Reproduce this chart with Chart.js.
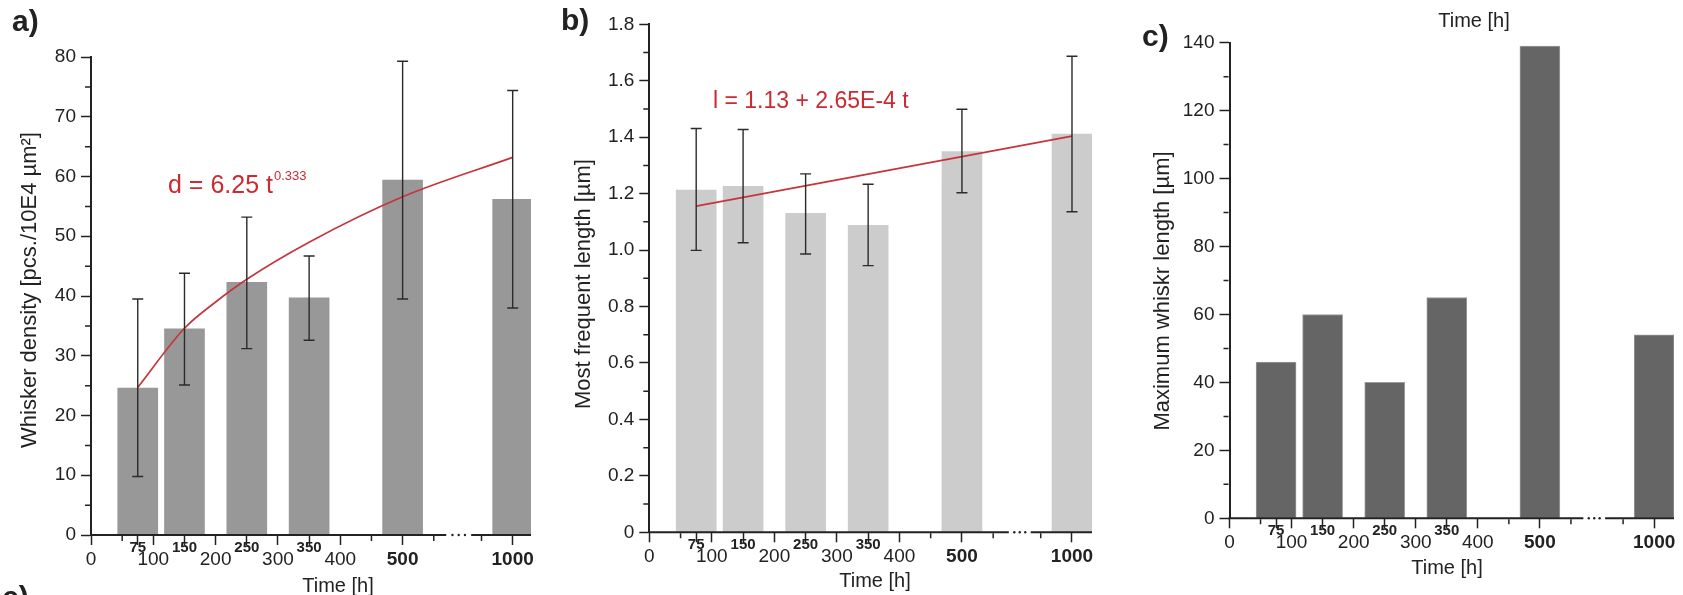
<!DOCTYPE html>
<html>
<head>
<meta charset="utf-8">
<script src="https://cdn.jsdelivr.net/npm/chart.js@4.4.1/dist/chart.umd.min.js"></script>
<style>
html, body { margin: 0; padding: 0; background: #fff; width: 1683px; height: 595px; overflow: hidden; }
canvas { position: absolute; top: 0; }
</style>
</head>
<body>
<canvas id="ca" width="560" height="595" style="left:0px"></canvas>
<canvas id="cb" width="560" height="595" style="left:560px"></canvas>
<canvas id="cc" width="563" height="595" style="left:1120px"></canvas>
<script>
// ---------------- data ----------------
const times = [75, 150, 250, 350, 500, 1000];
const tickHours = [0, 75, 100, 150, 200, 250, 300, 350, 400, 500, 1000];
const smallTickHours = [75, 150, 250, 350];
const boldTickHours = [500, 1000];
const minorTickHours = [50, 450, 550, 950];

// a) whisker density
const densityMean = [24.6, 34.5, 42.3, 39.7, 59.4, 56.2];
const densityHigh = [39.5, 43.8, 53.2, 46.7, 79.3, 74.4];
const densityLow  = [9.8, 25.1, 31.2, 32.6, 39.5, 38.0];
const densityFitTimes  = [75, 150, 200, 250, 350, 500, 1000];
const densityFitValues = [24.7, 34.6, 39.0, 42.8, 49.0, 56.6, 63.2];

// b) most frequent length
const lengthMean = [1.213, 1.226, 1.130, 1.088, 1.349, 1.411];
const lengthHigh = [1.431, 1.427, 1.270, 1.233, 1.499, 1.687];
const lengthLow  = [0.999, 1.026, 0.986, 0.945, 1.203, 1.136];
const lengthFitTimes  = [75, 1000];
const lengthFitValues = [1.156, 1.404];

// c) maximum whisker length
const maxLength = [46, 60, 40, 65, 139, 54];

// ---------------- drawing ----------------
const FONT = "'Liberation Sans', Arial, Helvetica, sans-serif";
Chart.defaults.font.family = FONT;
Chart.defaults.color = '#222';
const RED = '#cc2a30';
const INK = '#222';

function drawText(ctx, it) {
  ctx.save();
  ctx.font = (it.bold ? 'bold ' : '') + it.size + 'px ' + FONT;
  ctx.fillStyle = it.color || INK;
  ctx.textAlign = it.align || 'left';
  ctx.textBaseline = it.baseline || 'alphabetic';
  ctx.translate(it.x, it.y);
  if (it.rot) ctx.rotate(it.rot * Math.PI / 180);
  ctx.fillText(it.t, 0, 0);
  if (it.sup) {
    const w = ctx.measureText(it.t).width;
    ctx.font = it.supSize + 'px ' + FONT;
    ctx.textAlign = 'left';
    ctx.fillText(it.sup, w + 1, -it.supRise);
  }
  ctx.restore();
}

function makePanel(id, cfg) {
  const pos = t => (t > 600 ? t - cfg.shift : t);

  const extras = {
    id: 'extras_' + id,
    afterDatasetsDraw(chart) {
      const { ctx, scales: { x, y } } = chart;
      ctx.save();
      // error bars
      if (cfg.errHigh) {
        ctx.strokeStyle = '#2b2b2b';
        ctx.lineWidth = 1.4;
        times.forEach((t, i) => {
          const px = x.getPixelForValue(pos(t));
          const yh = y.getPixelForValue(cfg.errHigh[i]);
          const yl = y.getPixelForValue(cfg.errLow[i]);
          ctx.beginPath();
          ctx.moveTo(px, yh); ctx.lineTo(px, yl);
          ctx.moveTo(px - 5.5, yh); ctx.lineTo(px + 5.5, yh);
          ctx.moveTo(px - 5.5, yl); ctx.lineTo(px + 5.5, yl);
          ctx.stroke();
        });
      }
      // broken x axis line
      const y0 = y.getPixelForValue(0);
      ctx.strokeStyle = INK;
      ctx.lineWidth = 2;
      ctx.beginPath();
      ctx.moveTo(x.getPixelForValue(0) - 1, y0);
      ctx.lineTo(x.getPixelForValue(cfg.gap[0]), y0);
      ctx.moveTo(x.getPixelForValue(cfg.gap[1]), y0);
      ctx.lineTo(x.getPixelForValue(cfg.xmax), y0);
      ctx.stroke();
      ctx.fillStyle = INK;
      const g0 = x.getPixelForValue(cfg.gap[0]), g1 = x.getPixelForValue(cfg.gap[1]);
      for (let k = 1; k <= 3; k++) {
        const dx = g0 + (g1 - g0) * k / 4;
        ctx.beginPath(); ctx.arc(dx, y0, 1.2, 0, Math.PI * 2); ctx.fill();
      }
      // minor ticks
      ctx.lineWidth = 1.5;
      ctx.beginPath();
      minorTickHours.forEach(h => {
        const px = x.getPixelForValue(pos(h));
        ctx.moveTo(px, y0 + 1); ctx.lineTo(px, y0 + 6);
      });
      const x0 = x.getPixelForValue(0);
      for (let k = 0; k < Math.round(cfg.ymax / cfg.ystep); k++) {
        const py = y.getPixelForValue((k + 0.5) * cfg.ystep);
        ctx.moveTo(x0 - 6, py); ctx.lineTo(x0 - 1, py);
      }
      ctx.stroke();
      ctx.restore();
    },
    afterDraw(chart) {
      cfg.texts.forEach(it => drawText(chart.ctx, it));
    }
  };

  const datasets = [];
  if (cfg.fitTimes) {
    datasets.push({
      type: 'line',
      data: cfg.fitTimes.map((t, i) => ({ x: pos(t), y: cfg.fitValues[i] })),
      borderColor: '#c8343c', borderWidth: 1.7, pointRadius: 0,
      cubicInterpolationMode: 'monotone', fill: false
    });
  }
  datasets.push({
    type: 'bar',
    data: times.map((t, i) => ({ x: pos(t), y: cfg.values[i] })),
    backgroundColor: cfg.color,
    borderColor: cfg.edge || cfg.color,
    borderWidth: cfg.edge ? 1 : 0,
    barThickness: 40
  });

  return new Chart(document.getElementById(id), {
    type: 'bar',
    data: { datasets },
    options: {
      responsive: false, animation: false, devicePixelRatio: 1,
      layout: { autoPadding: false, padding: { left: 0, top: cfg.top, right: cfg.right, bottom: 0 } },
      plugins: { legend: { display: false }, tooltip: { enabled: false } },
      scales: {
        x: {
          type: 'linear', min: 0, max: cfg.xmax, offset: false,
          afterFit: s => { s.height = cfg.xh; },
          afterBuildTicks: s => { s.ticks = tickHours.map(h => ({ value: pos(h) })); },
          border: { display: false },
          grid: { display: true, drawOnChartArea: false, drawTicks: true, tickLength: 10, tickWidth: 1.5, tickColor: INK, offset: false },
          ticks: {
            autoSkip: false, maxRotation: 0, minRotation: 0, padding: 3, color: INK,
            callback: (v, i) => String(tickHours[i]),
            font: c => {
              const h = tickHours[c.index];
              if (smallTickHours.includes(h)) return { family: FONT, size: 15, weight: 'bold', lineHeight: 0 };
              if (boldTickHours.includes(h)) return { family: FONT, size: 19, weight: 'bold', lineHeight: 1.2 };
              return { family: FONT, size: 19, lineHeight: 1.2 };
            }
          }
        },
        y: {
          type: 'linear', min: 0, max: cfg.ymax,
          afterFit: s => { s.width = cfg.left; },
          border: { display: true, width: 2, color: INK },
          grid: { drawOnChartArea: false, drawTicks: true, tickLength: 10, tickWidth: 1.5, tickColor: INK },
          ticks: { stepSize: cfg.ystep, padding: 5, color: INK, font: { family: FONT, size: 19 }, callback: cfg.yfmt }
        }
      }
    },
    plugins: [extras]
  });
}

makePanel('ca', {
  shift: 323.4, xmax: 706, gap: [570, 610], left: 91, top: 57, right: 29, xh: 60,
  ymax: 80, ystep: 10, yfmt: v => String(v),
  values: densityMean, errHigh: densityHigh, errLow: densityLow,
  fitTimes: densityFitTimes, fitValues: densityFitValues, color: '#989898',
  texts: [
    { t: 'a)', x: 12, y: 31, size: 30, bold: true },
    { t: 'd = 6.25 t', x: 168, y: 193, size: 25, color: RED, sup: '0.333', supSize: 13, supRise: 13 },
    { t: 'Whisker density [pcs./10E4 \u00b5m\u00b2]', x: 30, y: 290, size: 22, rot: -90, align: 'center', baseline: 'middle' },
    { t: 'Time [h]', x: 338, y: 592, size: 20, align: 'center' },
    { t: 'c)', x: 2, y: 607, size: 30, bold: true }
  ]
});

makePanel('cb', {
  shift: 324, xmax: 708, gap: [575, 610], left: 89.3, top: 24.3, right: 28, xh: 62.7,
  ymax: 1.8, ystep: 0.2, yfmt: v => (Math.abs(v) < 1e-9 ? '0' : v.toFixed(1)),
  values: lengthMean, errHigh: lengthHigh, errLow: lengthLow,
  fitTimes: lengthFitTimes, fitValues: lengthFitValues, color: '#cccccc',
  texts: [
    { t: 'b)', x: 1, y: 30, size: 30, bold: true },
    { t: 'l = 1.13 + 2.65E-4 t', x: 153, y: 108, size: 23, color: RED },
    { t: 'Most frequent length [\u00b5m]', x: 24, y: 284, size: 22, rot: -90, align: 'center', baseline: 'middle' },
    { t: 'Time [h]', x: 315, y: 587, size: 20, align: 'center' }
  ]
});

makePanel('cc', {
  shift: 316, xmax: 716, gap: [570, 605], left: 109.5, top: 42.7, right: 9, xh: 76.7,
  ymax: 140, ystep: 20, yfmt: v => String(v),
  values: maxLength, color: '#656565', edge: '#9a9a9a',
  texts: [
    { t: 'c)', x: 22, y: 46, size: 30, bold: true },
    { t: 'Time [h]', x: 354, y: 27, size: 20, align: 'center' },
    { t: 'Maximum whiskr length [\u00b5m]', x: 43, y: 291, size: 22, rot: -90, align: 'center', baseline: 'middle' },
    { t: 'Time [h]', x: 327, y: 574, size: 20, align: 'center' }
  ]
});
</script>
</body>
</html>
